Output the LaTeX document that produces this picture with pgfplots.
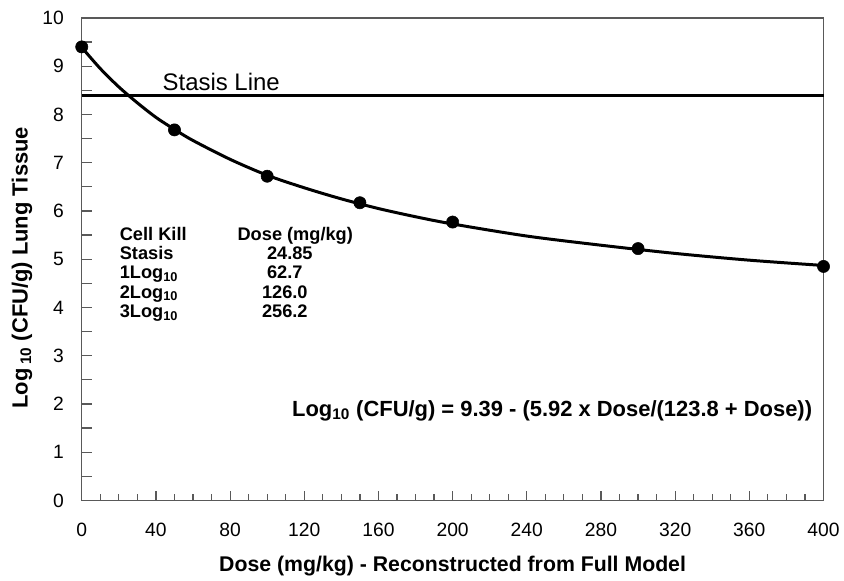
\documentclass[border=0pt]{standalone}
\usepackage{pgfplots}
\pgfplotsset{compat=1.18}
\usepackage{fontspec}
\setmainfont{Liberation Sans}
\begin{document}
\begin{tikzpicture}
\begin{axis}[
  name=ax,
  scale only axis,
  width=558pt, height=363pt,
  xmin=0, xmax=400, ymin=0, ymax=10,
  xtick={0,40,...,400},
  minor x tick num=3,
  ytick={0,1,...,10},
  extra y ticks={0.5,1.5,...,9.5},
  extra y tick labels={},
  xtick pos=bottom, ytick pos=left,
  tick align=inside,
  major tick length=7.5pt,
  minor tick length=4.5pt,
  every tick/.style={gray!70!black, line width=0.9pt},
  every extra y tick/.style={gray!70!black, line width=0.9pt},
  axis line style={gray!70!black, line width=1.1pt},
  tick label style={font=\fontsize{14.5}{17}\selectfont},
  /pgf/number format/assume math mode=true,
  xticklabel style={anchor=center, yshift=-21.75pt},
  yticklabel style={xshift=-10pt},
  xlabel={\textbf{Dose (mg/kg) - Reconstructed from Full Model}},
  ylabel={\textbf{Log\,\textsubscript{10} (CFU/g) Lung Tissue}},
  xlabel style={font=\fontsize{16}{19}\selectfont, at={(axis description cs:0.5,0)}, anchor=center, yshift=-49.5pt},
  ylabel style={font=\fontsize{16.5}{19}\selectfont, at={(axis description cs:-0.0806,0.482)}, anchor=center},
  clip=false,
]
% fitted curve
\addplot[black, line width=2.25pt, smooth] coordinates {
 (0,9.39) (10,8.95) (20,8.57) (30,8.24) (40,7.94) (50,7.69) (60,7.46)
 (80,7.07) (100,6.74) (120,6.48) (140,6.25) (160,6.05) (180,5.88)
 (200,5.73) (240,5.48) (280,5.29) (320,5.12) (360,4.98) (400,4.87)};
% stasis line
\addplot[black, line width=2.5pt] coordinates {(0,8.39) (400,8.39)};
% observed points
\addplot[only marks, mark=*, mark size=4.6pt, black] coordinates {
 (0,9.40) (50,7.68) (100,6.72) (150,6.17) (200,5.77) (300,5.22) (400,4.85)};
\node[anchor=base west, inner sep=0pt, font=\fontsize{18}{21}\selectfont] at (axis cs:43.5,8.49) {Stasis Line};
% table
\begin{scope}[every node/.style={inner sep=0pt, font=\fontsize{13.7}{16}\selectfont\bfseries}]
\node[anchor=base west] at (axis cs:20.4,5.393) {Cell Kill};
\node[anchor=base west] at (axis cs:20.4,5.000) {Stasis};
\node[anchor=base west] at (axis cs:20.4,4.597) {1Log\textsubscript{10}};
\node[anchor=base west] at (axis cs:20.4,4.194) {2Log\textsubscript{10}};
\node[anchor=base west] at (axis cs:20.4,3.790) {3Log\textsubscript{10}};
\node[anchor=base west] at (axis cs:83.9,5.393) {Dose (mg/kg)};
\node[anchor=base] at (axis cs:112.2,5.000) {24.85};
\node[anchor=base] at (axis cs:109.5,4.597) {62.7};
\node[anchor=base] at (axis cs:109.5,4.194) {126.0};
\node[anchor=base] at (axis cs:109.5,3.790) {256.2};
\end{scope}
\node[anchor=base east, inner sep=0pt, font=\fontsize{16.5}{19}\selectfont\bfseries] at (axis cs:394,1.74)
  {Log\textsubscript{10} (CFU/g) = 9.39 - (5.92 x Dose/(123.8 + Dose))};
\end{axis}
\path (ax.south west) ++(-61.5pt,-57.75pt);
\path (ax.north east) ++(13.5pt,13.5pt);
\end{tikzpicture}
\end{document}
